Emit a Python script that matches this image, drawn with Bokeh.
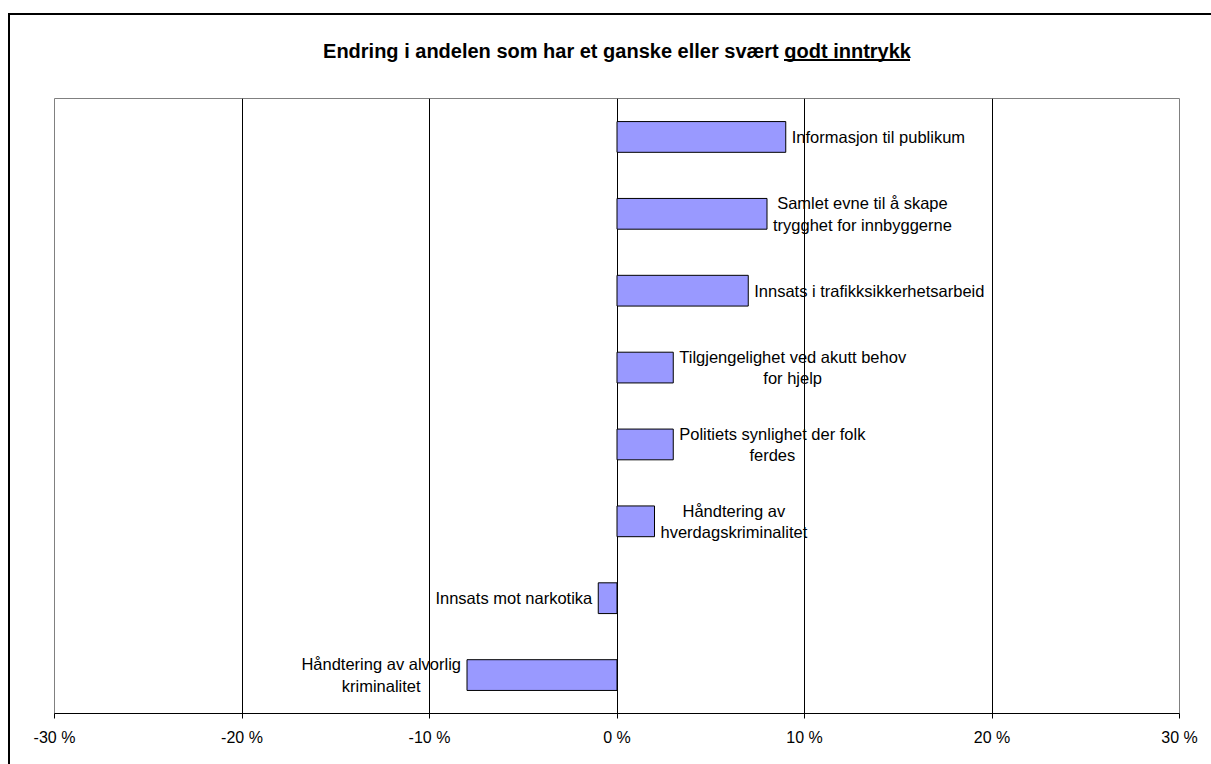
from bokeh.plotting import figure
from bokeh.models import ColumnDataSource, FactorRange, Range1d, FixedTicker
from bokeh.core.properties import value
from bokeh.embed import file_html
from bokeh.resources import INLINE

# ---- data ----
labels = [
    "Informasjon til publikum",
    "Samlet evne til å skape\ntrygghet for innbyggerne",
    "Innsats i trafikksikkerhetsarbeid",
    "Tilgjengelighet ved akutt behov\nfor hjelp",
    "Politiets synlighet der folk\nferdes",
    "Håndtering av\nhverdagskriminalitet",
    "Innsats mot narkotika",
    "Håndtering av alvorlig\nkriminalitet",
]
changes = [9, 8, 7, 3, 3, 2, -1, -8]
tick_values = [-30, -20, -10, 0, 10, 20, 30]
tick_labels = ["-30 %", "-20 %", "-10 %", "0 %", "10 %", "20 %", "30 %"]
title_text = "Endring i andelen som har et ganske eller svært godt inntrykk"

categories = [l.replace("\n", " ") for l in labels]

FONT = "Liberation Sans"

# decorative CSS: outer chart border (left/top visible) and the title underline
css = """
:host::before { content: ""; position: absolute; left: 8px; top: 13px;
  width: calc(100% - 8px); height: calc(100% - 13px); box-sizing: border-box;
  border-left: 2px solid black; border-top: 2px solid black;
  pointer-events: none; z-index: 10; }
:host::after { content: ""; position: absolute; left: 784px; top: 59px;
  width: 126px; height: 2px; background: black; pointer-events: none; z-index: 10; }
"""

p = figure(
    width=1211, height=764,
    x_range=Range1d(tick_values[0], tick_values[-1]),
    y_range=FactorRange(factors=categories[::-1]),
    output_backend="svg", toolbar_location=None,
    min_border_left=54, min_border_right=32, min_border_top=98, min_border_bottom=51,
    title=title_text,
    stylesheets=[css],
)
p.background_fill_color = "white"
p.border_fill_color = "white"
p.outline_line_color = "#808080"
p.outline_line_width = 1

p.title.align = "center"
p.title.text_font = FONT
p.title.text_font_size = "20px"
p.title.text_font_style = "bold"
p.title.text_color = "black"
p.title.standoff = 74

p.yaxis.visible = False
p.ygrid.grid_line_color = None

ax = p.xaxis[0]
ax.ticker = FixedTicker(ticks=tick_values)
ax.major_label_overrides = {v: t for v, t in zip(tick_values, tick_labels)}
ax.axis_line_color = "black"
ax.axis_line_width = 1
ax.major_tick_line_color = "black"
ax.major_tick_out = 5
ax.major_tick_in = 0
ax.minor_tick_line_color = None
ax.major_label_text_font = FONT
ax.major_label_text_font_size = "16px"
ax.major_label_text_color = "black"
ax.major_label_standoff = 10

p.xgrid.ticker = FixedTicker(ticks=tick_values[1:-1])
p.xgrid.grid_line_color = "black"
p.xgrid.grid_line_width = 1

src = ColumnDataSource(dict(cat=categories, val=changes, label=labels))
p.hbar(y="cat", left=0, right="val", height=0.4, source=src,
       fill_color="#9999FF", line_color="black", line_width=1)

pos = [i for i, v in enumerate(changes) if v >= 0]
neg = [i for i, v in enumerate(changes) if v < 0]
src_pos = ColumnDataSource(dict(cat=[categories[i] for i in pos], val=[changes[i] for i in pos],
                                label=[labels[i] for i in pos]))
src_neg = ColumnDataSource(dict(cat=[categories[i] for i in neg], val=[changes[i] for i in neg],
                                label=[labels[i] for i in neg]))
common = dict(text="label", text_font=value(FONT), text_font_size=value("16.5px"),
              text_color="black", text_align="center", text_baseline="middle",
              text_line_height=1.2)
p.text(x="val", y="cat", source=src_pos, x_offset=6, anchor=value("center_left"), **common)
p.text(x="val", y="cat", source=src_neg, x_offset=-6, anchor=value("center_right"), **common)

open("out.html", "w").write(file_html(p, INLINE))
